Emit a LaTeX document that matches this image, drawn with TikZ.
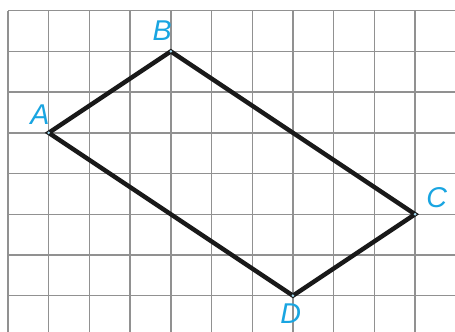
\documentclass[tikz,border=0pt]{standalone}
\usepackage{fontspec}
\setmainfont{Liberation Sans}
\definecolor{gridgray}{RGB}{145,145,145}
\definecolor{labelblue}{RGB}{25,165,225}
\begin{document}
\begin{tikzpicture}[x=1cm,y=1cm,
  gridline/.style={draw=gridgray,line width=1.0pt},
  edge/.style={draw=black!90,line width=3.1pt,line join=miter},
  ptlabel/.style={text=labelblue,font=\fontsize{20}{20}\selectfont\itshape,inner sep=0pt},
  vertex/.style={circle,fill=labelblue!40,inner sep=0pt,minimum size=2pt}]
\useasboundingbox (-0.197,0.263) rectangle (10.98,-7.87);
\fill[white] (-0.197,0.263) rectangle (10.98,-7.87);
\foreach \i in {0,...,10} \draw[gridline] (\i,0) -- (\i,-7.9);
\foreach \j in {0,...,7} \draw[gridline] (0,-\j) -- (11.1,-\j);
\coordinate (A) at (1,-3);
\coordinate (B) at (4,-1);
\coordinate (C) at (10,-5);
\coordinate (D) at (7,-7);
\draw[edge] (A) -- (B) -- (C) -- (D) -- cycle;
\node[vertex] (vA) at (A) {};
\node[vertex] (vB) at (B) {};
\node[vertex] (vC) at (C) {};
\node[vertex] (vD) at (D) {};
\node[ptlabel] (lA) at (0.786,-2.563) {A};
\node[ptlabel] (lB) at (3.784,-0.499) {B};
\node[ptlabel] (lC) at (10.53,-4.594) {C};
\node[ptlabel] (lD) at (6.946,-7.435) {D};
\end{tikzpicture}
\end{document}
